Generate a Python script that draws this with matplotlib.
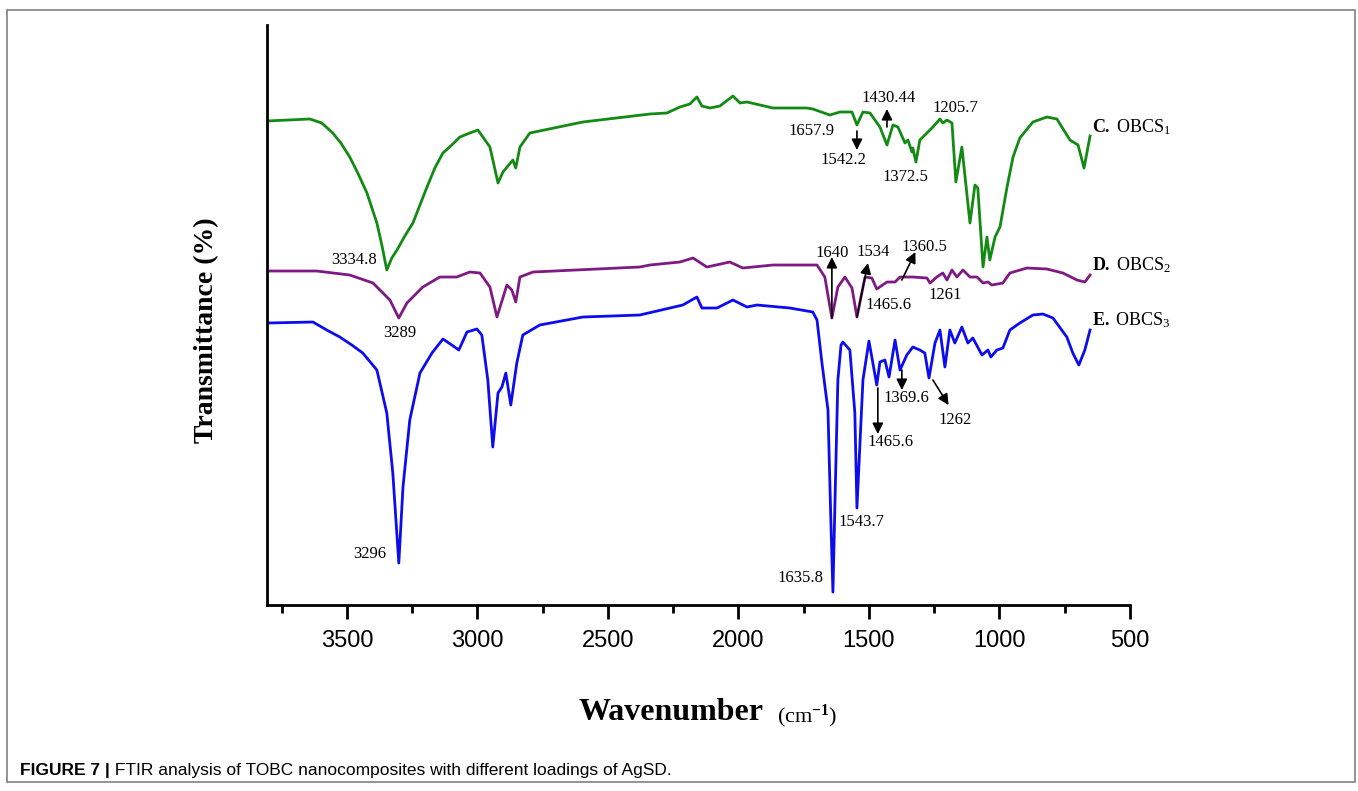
import matplotlib
matplotlib.use("Agg")
import matplotlib.pyplot as plt
from matplotlib.patches import Rectangle
from matplotlib.ticker import MultipleLocator

plt.rcParams['font.family'] = ['Liberation Serif', 'DejaVu Serif']
plt.rcParams['mathtext.fontset'] = 'custom'
plt.rcParams['mathtext.rm'] = 'Liberation Serif'
plt.rcParams['mathtext.bf'] = 'Liberation Serif:bold'
plt.rcParams['mathtext.it'] = 'Liberation Serif:italic'

# spectra: wavenumber (cm-1) and transmittance (a.u., offset)
wn_C = [3806, 3642, 3596, 3554, 3523, 3489, 3458, 3423, 3385, 3366, 3347, 3328, 3308,
        3278, 3247, 3220, 3193, 3163, 3132, 3098, 3067, 3029, 2998,
        2952, 2921, 2902, 2864, 2853, 2837, 2799, 2596, 2339, 2274, 2224, 2186, 2159,
        2140, 2109, 2071, 2021, 1994, 1967, 1868, 1738, 1715, 1650, 1611, 1565, 1546,
        1523, 1496, 1458, 1431, 1408, 1389, 1362, 1351, 1335, 1332, 1320, 1305, 1278,
        1255, 1228, 1217, 1201, 1182, 1167, 1144, 1113, 1094, 1083, 1063, 1048, 1037,
        1017, 998, 971, 948, 922, 872, 818, 780, 730, 699, 676, 653]
t_C = [484, 486, 482, 472, 462, 448, 432, 412, 382, 360, 335, 347, 355,
       369, 382, 400, 418, 437, 452, 460, 468, 472, 475,
       458, 422, 433, 445, 437, 458, 472, 483, 491, 492, 498, 501, 508,
       499, 497, 499, 509, 502, 503, 497, 497, 496, 490, 493, 493, 480,
       493, 492, 478, 460, 480, 478, 462, 465, 453, 457, 443, 465, 472,
       478, 486, 482, 485, 482, 423, 458, 382, 420, 417, 338, 368, 345,
       368, 378, 418, 448, 467, 483, 488, 486, 465, 460, 437, 469]

wn_D = [3806, 3615, 3489, 3400, 3335, 3301, 3270, 3209, 3144, 3079, 3029, 2990, 2952,
        2925, 2887, 2868, 2853, 2837, 2787, 2378, 2339, 2224, 2174, 2121, 2033, 1983,
        1868, 1715, 1699, 1669, 1642, 1619, 1592, 1565, 1546, 1515, 1489, 1470, 1431,
        1400, 1381, 1332, 1278, 1266, 1240, 1217, 1201, 1182, 1163, 1140, 1113, 1086,
        1063, 1044, 1029, 987, 960, 895, 818, 757, 703, 673, 653]
t_D = [334, 334, 330, 322, 305, 287, 302, 318, 328, 328, 333, 332, 318,
       288, 320, 315, 303, 328, 333, 338, 340, 343, 347, 338, 343, 337,
       340, 340, 340, 328, 287, 318, 328, 317, 288, 328, 327, 316, 323,
       323, 328, 328, 327, 322, 328, 332, 325, 335, 328, 335, 328, 328,
       322, 323, 320, 322, 332, 337, 336, 332, 325, 323, 330]

wn_E = [3806, 3630, 3577, 3527, 3481, 3439, 3385, 3347, 3324, 3301, 3285, 3259, 3220,
        3174, 3132, 3098, 3071, 3040, 3002, 2983, 2960, 2941, 2921, 2906, 2891, 2872,
        2849, 2826, 2761, 2596, 2378, 2213, 2159, 2140, 2082, 2021, 1967, 1929, 1803,
        1715, 1699, 1680, 1657, 1646, 1638, 1630, 1619, 1607, 1600, 1573, 1554, 1546,
        1523, 1500, 1485, 1470, 1458, 1439, 1423, 1400, 1381, 1355, 1332, 1305, 1286,
        1270, 1247, 1228, 1209, 1190, 1171, 1144, 1121, 1102, 1067, 1044, 1033, 1010,
        987, 960, 922, 872, 834, 795, 742, 719, 696, 673, 653]
t_E = [282, 283, 275, 268, 260, 252, 235, 192, 132, 42, 118, 185, 232,
       252, 266, 260, 255, 273, 276, 270, 225, 158, 212, 218, 232, 200,
       242, 270, 280, 288, 290, 300, 308, 297, 297, 305, 298, 300, 297,
       293, 285, 242, 195, 85, 13, 105, 225, 260, 263, 255, 192, 97,
       225, 264, 242, 220, 243, 245, 228, 265, 235, 250, 258, 255, 252,
       227, 262, 275, 238, 275, 262, 278, 262, 267, 250, 255, 248, 255,
       257, 275, 282, 290, 291, 287, 268, 252, 240, 255, 275]

series = [(wn_C, t_C, '#138a13'), (wn_D, t_D, '#7f1a82'), (wn_E, t_E, '#0c0cee')]

fig = plt.figure(figsize=(13.58, 7.91), dpi=100)
ax = fig.add_axes([0.1966, 0.2351, 0.6355, 0.7333])

for wn, t, c in series:
    ax.plot(wn, t, color=c, lw=2.0, solid_joinstyle='round')

ax.set_xlim(3806, 500)
ax.set_ylim(0, 580)
ax.spines['top'].set_visible(False)
ax.spines['right'].set_visible(False)
ax.spines['left'].set_linewidth(2)
ax.spines['bottom'].set_linewidth(2)
ax.set_yticks([])
ax.xaxis.set_major_locator(MultipleLocator(500))
ax.xaxis.set_minor_locator(MultipleLocator(250))
ax.tick_params(axis='x', which='major', direction='out', length=10, width=2, pad=8)
ax.tick_params(axis='x', which='minor', direction='out', length=6, width=2)
for lbl in ax.get_xticklabels():
    lbl.set_family('Liberation Sans')
    lbl.set_fontsize(17)

# peak labels
fs = 12
ax.text(3385, 345, '3334.8', fontsize=fs, ha='right', va='center')
ax.text(3297, 272, '3289', fontsize=fs, ha='center', va='center')
ax.text(3412, 51, '3296', fontsize=fs, ha='center', va='center')
ax.text(1673, 27, '1635.8', fontsize=fs, ha='right', va='center')
ax.text(1615, 83, '1543.7', fontsize=fs, ha='left', va='center')
ax.text(1416, 163, '1465.6', fontsize=fs, ha='center', va='center')
ax.text(1358, 207, '1369.6', fontsize=fs, ha='center', va='center')
ax.text(1171, 185, '1262', fontsize=fs, ha='center', va='center')
ax.text(1642, 352, '1640', fontsize=fs, ha='center', va='center')
ax.text(1485, 353, '1534', fontsize=fs, ha='center', va='center')
ax.text(1286, 358, '1360.5', fontsize=fs, ha='center', va='center')
ax.text(1512, 300, '1465.6', fontsize=fs, ha='left', va='center')
ax.text(1209, 310, '1261', fontsize=fs, ha='center', va='center')
ax.text(1722, 474, '1657.9', fontsize=fs, ha='center', va='center')
ax.text(1596, 445, '1542.2', fontsize=fs, ha='center', va='center')
ax.text(1423, 507, '1430.44', fontsize=fs, ha='center', va='center')
ax.text(1362, 428, '1372.5', fontsize=fs, ha='center', va='center')
ax.text(1167, 497, '1205.7', fontsize=fs, ha='center', va='center')

arrows = [((1466, 217), (1466, 171)),
          ((1374, 235), (1374, 215)),
          ((1255, 225), (1195, 200)),
          ((1642, 287), (1642, 348)),
          ((1546, 288), (1504, 342)),
          ((1374, 325), (1322, 353)),
          ((1546, 474), (1546, 455)),
          ((1431, 478), (1431, 496))]
for tail, tip in arrows:
    ax.annotate('', xy=tip, xytext=tail,
                arrowprops=dict(arrowstyle='-|>', color='k', lw=1.2,
                                mutation_scale=16, shrinkA=0, shrinkB=0))

# series names on the right
ax.text(646, 478, r'$\mathbf{C.}$ OBCS$_1$', fontsize=13, ha='left', va='center', clip_on=False)
ax.text(646, 340, r'$\mathbf{D.}$ OBCS$_2$', fontsize=13, ha='left', va='center', clip_on=False)
ax.text(646, 285, r'$\mathbf{E.}$ OBCS$_3$', fontsize=13, ha='left', va='center', clip_on=False)

fig.text(207 / 1358, 1 - 330 / 791, 'Transmittance (%)', rotation=90, fontsize=20,
         fontweight='bold', ha='center', va='center')
fig.text(671 / 1358, 1 - 713 / 791, 'Wavenumber', fontsize=23, fontweight='bold',
         ha='center', va='center')
fig.text(777 / 1358, 1 - 716 / 791, r'(cm$^{\mathbf{-1}}$)', fontsize=16,
         ha='left', va='center')

# figure frame and caption
fig.add_artist(Rectangle((7 / 1358, 1 - 782 / 791), 1348 / 1358, 772 / 791,
                         transform=fig.transFigure, fill=False, edgecolor='#808080', lw=1.2))
cap = fig.text(20 / 1358, 1 - 771 / 791, 'FIGURE 7 |', fontsize=12.5, fontweight='bold',
               family='Liberation Sans', ha='left', va='center')
ax.annotate(' FTIR analysis of TOBC nanocomposites with different loadings of AgSD.',
            xy=(1, 0.5), xycoords=cap, fontsize=12.5, family='Liberation Sans',
            ha='left', va='center', annotation_clip=False)

fig.savefig('out.png', dpi=100)
